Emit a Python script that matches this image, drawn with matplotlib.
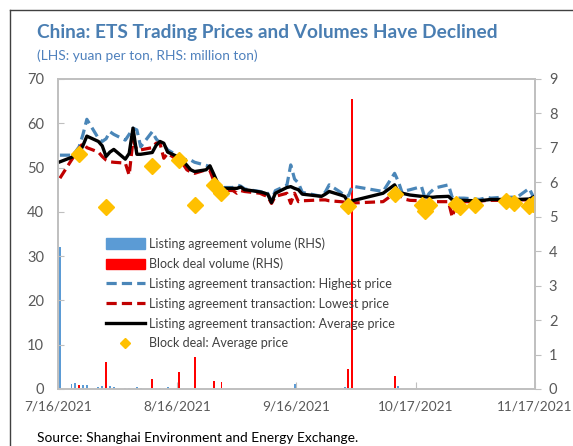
import matplotlib
matplotlib.use('Agg')
import matplotlib.pyplot as plt
from matplotlib.lines import Line2D
from matplotlib.patches import Patch
import pandas as pd

plt.rcParams['font.family'] = ['Lato', 'DejaVu Sans']

# Listing agreement prices (yuan per ton), trading days
price_dates = [
    '2021-07-16', '2021-07-19', '2021-07-20', '2021-07-21', '2021-07-22', '2021-07-23',
    '2021-07-26', '2021-07-27', '2021-07-28', '2021-07-29', '2021-07-30',
    '2021-08-02', '2021-08-03', '2021-08-04', '2021-08-05', '2021-08-06',
    '2021-08-09', '2021-08-10', '2021-08-11', '2021-08-12', '2021-08-13',
    '2021-08-16', '2021-08-17', '2021-08-18', '2021-08-19', '2021-08-20',
    '2021-08-23', '2021-08-24', '2021-08-25', '2021-08-26', '2021-08-27',
    '2021-08-30', '2021-08-31', '2021-09-01', '2021-09-02', '2021-09-03',
    '2021-09-06', '2021-09-07', '2021-09-08', '2021-09-09', '2021-09-10',
    '2021-09-13', '2021-09-14', '2021-09-15', '2021-09-16', '2021-09-17',
    '2021-09-22', '2021-09-23', '2021-09-24',
    '2021-09-27', '2021-09-28', '2021-09-29', '2021-09-30',
    '2021-10-08', '2021-10-11', '2021-10-12', '2021-10-13', '2021-10-14', '2021-10-15',
    '2021-10-18', '2021-10-19', '2021-10-20', '2021-10-21', '2021-10-22',
    '2021-10-25', '2021-10-26', '2021-10-27', '2021-10-28', '2021-10-29',
    '2021-11-01', '2021-11-02', '2021-11-03', '2021-11-04', '2021-11-05',
    '2021-11-08', '2021-11-09', '2021-11-10', '2021-11-11', '2021-11-12',
    '2021-11-15', '2021-11-16',
]
high_price = [
    52.8, 52.8, 53.5, 54.7, 57.5, 60.9,
    56.6, 55.9, 56.5, 58.1, 57.5,
    56.2, 57.5, 58.9, 58.5, 54.7,
    58.1, 56.5, 55.5, 55.1, 54.0,
    52.5, 52.0, 51.7, 51.7, 51.2,
    50.5, 50.2, 47.6, 46.5, 45.5,
    45.5, 46.1, 45.8, 45.2, 45.0,
    44.6, 44.4, 44.2, 42.5, 44.8,
    46.0, 50.6, 47.4, 46.5, 44.4,
    43.5, 44.5, 46.1,
    44.4, 43.6, 43.6, 45.8,
    44.6, 48.7, 46.8, 44.2, 44.8, 45.0,
    45.7, 42.8, 44.2, 45.0, 45.5,
    46.1, 43.2, 43.2, 43.1, 43.1,
    42.9, 42.8, 43.0, 43.3, 43.1,
    43.3, 43.2, 43.3, 43.3, 43.4,
    45.3, 43.5,
]
low_price = [
    47.6, 51.7, 53.0, 54.3, 55.5, 54.5,
    53.5, 52.5, 51.7, 51.3, 51.2,
    51.0, 48.3, 56.2, 54.0, 54.0,
    54.5, 55.5, 55.5, 52.1, 53.2,
    51.5, 50.8, 49.5, 49.0, 48.7,
    49.5, 49.3, 47.0, 45.3, 44.9,
    44.8, 44.2, 44.8, 44.6, 44.5,
    44.2, 43.8, 43.5, 41.9, 43.5,
    44.2, 41.9, 44.2, 42.3, 42.5,
    42.7, 42.7, 42.5,
    42.3, 42.2, 41.9, 42.0,
    42.3, 44.2, 43.8, 43.3, 42.8, 42.6,
    42.5, 42.4, 42.3, 42.3, 42.3,
    42.3, 38.8, 41.9, 42.3, 42.3,
    42.3, 42.4, 42.5, 42.6, 42.6,
    42.6, 42.6, 42.7, 42.7, 42.7,
    42.7, 42.8,
]
avg_price = [
    51.3, 52.3, 52.8, 53.3, 55.0, 57.1,
    55.9, 54.9, 52.5, 53.5, 54.1,
    51.9, 53.2, 58.9, 53.0, 53.0,
    53.4, 55.0, 55.9, 55.5, 53.5,
    52.3, 51.5, 50.5, 49.5, 49.1,
    49.5, 50.4, 48.5, 46.5, 45.3,
    45.3, 45.3, 45.6, 45.0, 44.9,
    44.5, 44.3, 44.0, 42.1, 44.2,
    45.5, 45.7, 45.3, 45.0, 44.0,
    43.5, 44.0, 44.6,
    43.8, 43.5, 42.1, 42.5,
    44.2, 46.1, 44.4, 44.2, 44.0, 43.8,
    43.5, 43.4, 43.3, 43.3, 43.4,
    43.5, 42.7, 42.6, 42.6, 42.6,
    42.5, 42.5, 42.6, 42.7, 42.8,
    42.8, 42.8, 42.8, 42.8, 42.8,
    42.9, 43.3,
]

# Block deal average price (yuan per ton)
block_dates = [
    '2021-07-21', '2021-07-28', '2021-08-09', '2021-08-16', '2021-08-20',
    '2021-08-25', '2021-08-27', '2021-09-29', '2021-10-11', '2021-10-18',
    '2021-10-19', '2021-10-20', '2021-10-27', '2021-10-28', '2021-11-01',
    '2021-11-09', '2021-11-11', '2021-11-15', '2021-11-16',
]
block_price = [
    53.0, 41.1, 50.4, 51.7, 41.6,
    46.1, 44.2, 41.3, 44.0, 41.6,
    40.1, 41.6, 41.8, 41.2, 41.6,
    42.5, 41.9, 41.3, 41.8,
]

# Volumes (million ton)
listing_vol_dates = [
    '2021-07-16', '2021-07-19', '2021-07-20', '2021-07-22', '2021-07-23',
    '2021-07-26', '2021-07-27', '2021-07-29', '2021-07-30', '2021-08-02',
    '2021-08-03', '2021-08-05', '2021-08-06', '2021-08-10', '2021-08-11',
    '2021-08-13', '2021-08-16', '2021-09-15', '2021-09-28', '2021-10-12',
]
listing_vol = [
    4.13, 0.15, 0.16, 0.12, 0.12,
    0.05, 0.09, 0.10, 0.05, 0.04,
    0.04, 0.05, 0.03, 0.03, 0.03,
    0.05, 0.15, 0.15, 0.05, 0.08,
]
block_vol_dates = [
    '2021-07-21', '2021-07-28', '2021-08-09', '2021-08-16', '2021-08-20',
    '2021-08-25', '2021-08-27', '2021-09-29', '2021-09-30', '2021-10-11',
]
block_vol = [0.12, 0.79, 0.28, 0.50, 0.93, 0.24, 0.20, 0.57, 8.42, 0.39]

x_ticks = ['2021-07-16', '2021-08-16', '2021-09-16', '2021-10-17', '2021-11-17']
x_labels = ['7/16/2021', '8/16/2021', '9/16/2021', '10/17/2021', '11/17/2021']

# points sit in the middle of each day slot
half_day = pd.Timedelta(hours=12)
pdates = pd.to_datetime(price_dates) + half_day
bdates = pd.to_datetime(block_dates) + half_day
lvdates = pd.to_datetime(listing_vol_dates) + half_day
bvdates = pd.to_datetime(block_vol_dates) + half_day

gray = '#bfbfbf'
tick_col = '#595959'

fig = plt.figure(figsize=(5.73, 4.46), dpi=100)
ax = fig.add_axes([58 / 573, 1 - 389 / 446, 477 / 573, 310 / 446])
ax2 = ax.twinx()

# volume bars on the right axis, behind the price lines
ax2.bar(lvdates, listing_vol, width=0.5, color='#5b9bd5')
ax2.bar(bvdates, block_vol, width=0.5, color='#ff0000')
ax.set_zorder(ax2.get_zorder() + 1)
ax.patch.set_visible(False)

ax.plot(pdates, high_price, color='#4a86b8', lw=2.3, dashes=(3.2, 1.6))
ax.plot(pdates, low_price, color='#c00000', lw=2.3, dashes=(3.2, 1.6))
ax.plot(pdates, avg_price, color='black', lw=2.4)
ax.plot(bdates, block_price, ls='none', marker='D', ms=8, color='#ffc000', mec='#ffc000')

ax.set_ylim(0, 70)
ax.set_yticks(range(0, 71, 10))
ax2.set_ylim(0, 9)
ax2.set_yticks(range(0, 10))
ax.set_xlim(pd.Timestamp('2021-07-16'), pd.Timestamp('2021-11-17'))
ax.set_xticks(pd.to_datetime(x_ticks))
ax.set_xticklabels(x_labels)

for a in (ax, ax2):
    for s in a.spines.values():
        s.set_color(gray)
        s.set_linewidth(1.2)
ax.tick_params(axis='y', direction='in', length=4, color=gray, labelcolor=tick_col, labelsize=10.5, pad=10)
ax.tick_params(axis='x', direction='in', length=5, color=gray, labelcolor=tick_col, labelsize=9.8, pad=8)
ax2.tick_params(axis='y', direction='out', length=4, color=gray, labelcolor=tick_col, labelsize=10.5, pad=6)

handles = [
    Patch(color='#5b9bd5'),
    Patch(color='#ff0000'),
    Line2D([], [], color='#4a86b8', lw=2.3, dashes=(3.2, 1.6)),
    Line2D([], [], color='#c00000', lw=2.3, dashes=(3.2, 1.6)),
    Line2D([], [], color='black', lw=2.4),
    Line2D([], [], ls='none', marker='D', ms=5, color='#ffc000'),
]
labels = [
    'Listing agreement volume (RHS)',
    'Block deal volume (RHS)',
    'Listing agreement transaction: Highest price',
    'Listing agreement transaction: Lowest price',
    'Listing agreement transaction: Average price',
    'Block deal: Average price',
]
leg = ax.legend(handles, labels, loc='upper left', bbox_to_anchor=(0.09, 0.505),
                frameon=False, fontsize=9, handlelength=3.1, handleheight=0.9,
                labelspacing=0.62, handletextpad=0.35, borderaxespad=0)
for t in leg.get_texts():
    t.set_color('#404040')

fig.text(37 / 573, 1 - 38 / 446, 'China: ETS Trading Prices and Volumes Have Declined',
         fontsize=13.8, fontweight='bold', color='#4a7eb2', va='baseline')
fig.text(37 / 573, 1 - 60 / 446, '(LHS: yuan per ton, RHS: million ton)',
         fontsize=9.9, color='#4f81bd', va='baseline')
fig.text(37 / 573, 1 - 442 / 446, 'Source: Shanghai Environment and Energy Exchange.',
         fontsize=9.9, color='black', va='baseline')

# outer box of the panel (top and left edges)
fig.add_artist(Line2D([10 / 573, 1], [1 - 10 / 446, 1 - 10 / 446], color='#404040', lw=1))
fig.add_artist(Line2D([10 / 573, 10 / 573], [0, 1 - 10 / 446], color='#404040', lw=1))

fig.savefig('out.png', dpi=100)
